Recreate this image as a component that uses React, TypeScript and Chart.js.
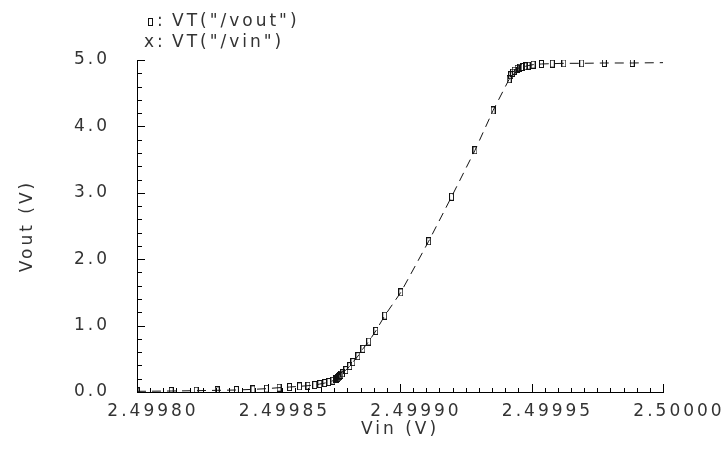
import { useEffect, useRef } from "react";
import { Chart, registerables } from "chart.js";

Chart.register(...registerables);

// Vin sweep points (V)
const VIN = [
  2.49980, 2.4998130, 2.4998225, 2.4998305, 2.4998378, 2.4998441, 2.4998492,
  2.4998540, 2.4998580, 2.4998618, 2.4998650, 2.4998676, 2.4998695, 2.4998714,
  2.4998730, 2.4998745, 2.4998755, 2.4998760, 2.4998764, 2.4998768, 2.4998771,
  2.4998775, 2.4998781, 2.4998794, 2.4998809, 2.4998821, 2.4998840, 2.4998859,
  2.4998881, 2.4998908, 2.4998942, 2.4999003, 2.4999109, 2.4999196, 2.4999285,
  2.4999354, 2.4999415, 2.4999421, 2.4999428, 2.4999434, 2.4999445, 2.4999456,
  2.4999466, 2.4999477, 2.4999487, 2.4999506, 2.4999538, 2.4999579, 2.4999623,
  2.4999691, 2.4999777, 2.4999883, 2.50000,
];
// Vout values (V)
const VOUT = [
  0.01, 0.015, 0.02, 0.025, 0.03, 0.04, 0.05,
  0.065, 0.075, 0.085, 0.095, 0.105, 0.12, 0.135,
  0.15, 0.17, 0.19, 0.2, 0.21, 0.22, 0.24,
  0.26, 0.28, 0.33, 0.39, 0.45, 0.54, 0.65,
  0.76, 0.92, 1.15, 1.5, 2.27, 2.94, 3.64,
  4.24, 4.71, 4.77, 4.81, 4.84, 4.87, 4.885,
  4.895, 4.905, 4.915, 4.93, 4.94, 4.945, 4.95,
  4.95, 4.955, 4.955, 4.96,
];

const SERIES_LABELS = ['VT("/vout")', 'VT("/vin")'];
const SERIES_SYMBOLS = ["", "x"];

const X_MIN = 2.4998;
const X_MAX = 2.5;
const X_TICKS = [2.4998, 2.49985, 2.4999, 2.49995, 2.5];
const X_MINOR_DIVS = 40;
const Y_MIN = 0;
const Y_MAX = 5;
const Y_TICKS = [0, 1, 2, 3, 4, 5];
const Y_MINOR_DIVS = 25;

const X_TITLE = "Vin (V)";
const Y_TITLE = "Vout (V)";

const FONT_FAMILY = '"DejaVu Sans", sans-serif';
const TEXT_COLOR = "#333";
const LETTER_SPACING = "3px";

export default function App() {
  const canvasRef = useRef<HTMLCanvasElement | null>(null);

  useEffect(() => {
    document.body.style.margin = "0";
    const canvas = canvasRef.current;
    if (!canvas) return;

    const marker = document.createElement("canvas");
    marker.width = 5;
    marker.height = 8;
    const mctx = marker.getContext("2d")!;
    mctx.strokeStyle = "#111";
    mctx.lineWidth = 1;
    mctx.strokeRect(0.5, 0.5, 4, 7);

    const setSpacing = (chart: any) => {
      try {
        (chart.ctx as any).letterSpacing = LETTER_SPACING;
      } catch (e) {}
    };

    const spacingPlugin = {
      id: "spacing",
      afterInit: setSpacing,
      beforeUpdate: setSpacing,
      beforeLayout: setSpacing,
      beforeDraw: setSpacing,
    };

    const decorPlugin = {
      id: "decor",
      afterDraw(chart: any) {
        const ctx = chart.ctx;
        ctx.save();
        // inward tick marks, placed through the scales
        const xs = chart.scales.x;
        const ys = chart.scales.y;
        const area = chart.chartArea;
        const bottom = Math.round(area.bottom);
        const left = Math.round(area.left);
        ctx.fillStyle = "#000000";
        for (let i = 0; i <= X_MINOR_DIVS; i++) {
          const v = X_MIN + ((X_MAX - X_MIN) * i) / X_MINOR_DIVS;
          const px = Math.round(xs.getPixelForValue(v));
          const len = i % 10 === 0 ? 8 : 4;
          ctx.fillRect(px, bottom - len, 1, len);
        }
        for (let i = 0; i <= Y_MINOR_DIVS; i++) {
          const v = Y_MIN + ((Y_MAX - Y_MIN) * i) / Y_MINOR_DIVS;
          const py = Math.round(ys.getPixelForValue(v));
          const len = i % 5 === 0 ? 8 : 5;
          ctx.fillRect(left, py, len, 1);
        }

        // legend
        ctx.letterSpacing = LETTER_SPACING;
        ctx.font = `17px ${FONT_FAMILY}`;
        ctx.fillStyle = TEXT_COLOR;
        ctx.textBaseline = "middle";
        ctx.textAlign = "left";
        const rows = [22, 43];
        SERIES_LABELS.forEach((label, i) => {
          const y = rows[i];
          if (SERIES_SYMBOLS[i] === "") {
            ctx.drawImage(marker, 148, Math.round(y - 4));
            ctx.fillText(":", 157, y);
          } else {
            ctx.fillText(SERIES_SYMBOLS[i] + ":", 144, y);
          }
          ctx.fillText(label, 172, y);
        });
        ctx.restore();
      },
    };

    const chart = new Chart(canvas, {
      type: "line",
      data: {
        datasets: [
          {
            label: SERIES_LABELS[0],
            data: VIN.map((x, i) => ({ x, y: VOUT[i] })),
            borderColor: "#111",
            borderWidth: 1,
            borderDash: [9, 6],
            pointStyle: marker,
            pointRadius: (c: any) => (c.dataIndex === VIN.length - 1 ? 0 : 3),
            pointHoverRadius: 3,
            fill: false,
            tension: 0,
          },
          {
            label: SERIES_LABELS[1],
            data: [],
            borderColor: "#111",
            pointStyle: "crossRot",
          },
        ],
      },
      plugins: [spacingPlugin, decorPlugin],
      options: {
        animation: false,
        responsive: false,
        devicePixelRatio: 1,
        events: [],
        layout: { padding: { top: 60, right: 64, left: 0, bottom: 0 } },
        plugins: {
          legend: { display: false },
          tooltip: { enabled: false },
          title: { display: false },
        },
        scales: {
          x: {
            type: "linear",
            min: X_MIN,
            max: X_MAX,
            afterBuildTicks: (s: any) => {
              s.ticks = X_TICKS.map((value) => ({ value }));
            },
            afterFit: (s: any) => {
              s.height = 58;
            },
            grid: { display: false, drawTicks: false },
            border: { display: true, color: "#000", width: 1 },
            ticks: {
              padding: 9,
              labelOffset: 16,
              maxRotation: 0,
              autoSkip: false,
              color: TEXT_COLOR,
              font: { family: FONT_FAMILY, size: 17 },
              callback: (v: any) => Number(v).toFixed(5),
            },
            title: {
              display: true,
              text: X_TITLE,
              color: TEXT_COLOR,
              font: { family: FONT_FAMILY, size: 17 },
              padding: { top: 0, bottom: 10 },
            },
          },
          y: {
            type: "linear",
            min: Y_MIN,
            max: Y_MAX,
            afterBuildTicks: (s: any) => {
              s.ticks = Y_TICKS.map((value) => ({ value }));
            },
            afterFit: (s: any) => {
              s.width = 137;
            },
            grid: { display: false, drawTicks: false },
            border: { display: true, color: "#000", width: 1 },
            ticks: {
              padding: 27,
              color: TEXT_COLOR,
              font: { family: FONT_FAMILY, size: 17 },
              callback: (v: any) => Number(v).toFixed(1),
            },
            title: {
              display: true,
              text: Y_TITLE,
              color: TEXT_COLOR,
              font: { family: FONT_FAMILY, size: 17 },
              padding: { top: 17, bottom: 0 },
            },
          },
        },
      },
    } as any);

    return () => {
      chart.destroy();
    };
  }, []);

  return (
    <div style={{ width: 727, height: 450 }}>
      <canvas ref={canvasRef} width={727} height={450} style={{ display: "block" }} />
    </div>
  );
}
